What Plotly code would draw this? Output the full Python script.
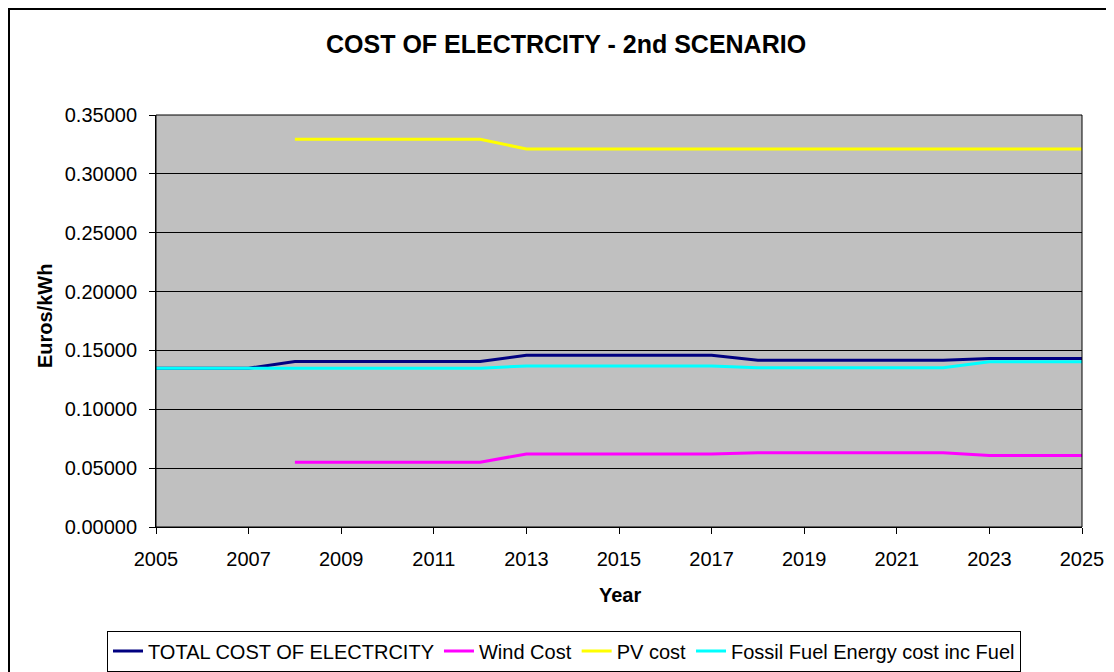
import plotly.graph_objects as go

# Данные
years = list(range(2005, 2026))

total_cost = [0.1349, 0.1349, 0.1349,
              0.1406, 0.1406, 0.1406, 0.1406, 0.1406,
              0.1460, 0.1460, 0.1460, 0.1460, 0.1460,
              0.1417, 0.1417, 0.1417, 0.1417, 0.1417,
              0.1432, 0.1432, 0.1432]

wind_cost = [None, None, None,
             0.0551, 0.0551, 0.0551, 0.0551, 0.0551,
             0.0620, 0.0620, 0.0620, 0.0620, 0.0620,
             0.0630, 0.0630, 0.0630, 0.0630, 0.0630,
             0.0608, 0.0608, 0.0608]

pv_cost = [None, None, None,
           0.3293, 0.3293, 0.3293, 0.3293, 0.3293,
           0.3212, 0.3212, 0.3212, 0.3212, 0.3212,
           0.3212, 0.3212, 0.3212, 0.3212, 0.3212,
           0.3212, 0.3212, 0.3212]

fossil_cost = [0.1349, 0.1349, 0.1349,
               0.1349, 0.1349, 0.1349, 0.1349, 0.1349,
               0.1368, 0.1368, 0.1368, 0.1368, 0.1368,
               0.1352, 0.1352, 0.1352, 0.1352, 0.1352,
               0.1404, 0.1404, 0.1404]

series = [
    ('TOTAL COST OF ELECTRCITY', total_cost, '#000080'),
    ('Wind Cost', wind_cost, '#FF00FF'),
    ('PV cost', pv_cost, '#FFFF00'),
    ('Fossil Fuel Energy cost inc Fuel', fossil_cost, '#00FFFF'),
]

# страница добавляет отступ 8px вокруг фигуры
OFF = 8
W, H = 1114, 672
L, R, T, B = 156 - OFF, 1082 - OFF, 115 - OFF, 527 - OFF

fig = go.Figure()
for name, vals, color in series:
    fig.add_trace(go.Scatter(
        x=years, y=vals, mode='lines', name=name,
        line=dict(color=color, width=3),
    ))

def px_x(p):
    # координата страницы -> paper
    return (p - OFF - L) / (R - L)

def px_y(p):
    return (B - (p - OFF)) / (B - T)

fig.update_layout(
    width=W, height=H,
    margin=dict(l=L, r=W - R, t=T, b=H - B, autoexpand=False),
    paper_bgcolor='white',
    plot_bgcolor='#C0C0C0',
    font=dict(family='Liberation Sans, Arial, sans-serif', size=20, color='black'),
    showlegend=True,
    legend=dict(
        orientation='h',
        x=px_x(564), xanchor='center',
        y=px_y(651), yanchor='middle',
        bordercolor='black', borderwidth=1,
        font=dict(size=20),
        bgcolor='white',
        itemwidth=30,
    ),
    shapes=[
        dict(type='rect', xref='paper', yref='paper',
             x0=px_x(9), x1=px_x(1140), y0=px_y(700), y1=px_y(9),
             line=dict(color='black', width=2), layer='below'),
        dict(type='rect', xref='paper', yref='paper',
             x0=0, x1=1, y0=0, y1=1,
             line=dict(color='black', width=1)),
    ],
    annotations=[
        dict(text='<b>COST OF ELECTRCITY - 2nd SCENARIO</b>', xref='paper', yref='paper',
             x=px_x(566), y=px_y(44), xanchor='center', yanchor='middle',
             showarrow=False, font=dict(size=25)),
        dict(text='<b>Euros/kWh</b>', xref='paper', yref='paper',
             x=px_x(45), y=px_y(316), xanchor='center', yanchor='middle',
             showarrow=False, textangle=-90, font=dict(size=20)),
        dict(text='<b>Year</b>', xref='paper', yref='paper',
             x=px_x(620), y=px_y(595), xanchor='center', yanchor='middle',
             showarrow=False, font=dict(size=20)),
    ],
)

fig.update_xaxes(
    range=[2005, 2025], tickmode='linear', tick0=2005, dtick=2,
    showgrid=False, zeroline=False,
    ticks='outside', ticklen=6, tickcolor='black', ticklabelstandoff=8,
    showline=True, linecolor='black',
)
fig.update_yaxes(
    range=[0, 0.35], tickmode='linear', tick0=0, dtick=0.05, tickformat='.5f',
    showgrid=True, gridcolor='black', gridwidth=1, zeroline=False,
    ticks='outside', ticklen=6, tickcolor='black', ticklabelstandoff=8,
    showline=True, linecolor='black',
)

fig.write_html("out.html")
